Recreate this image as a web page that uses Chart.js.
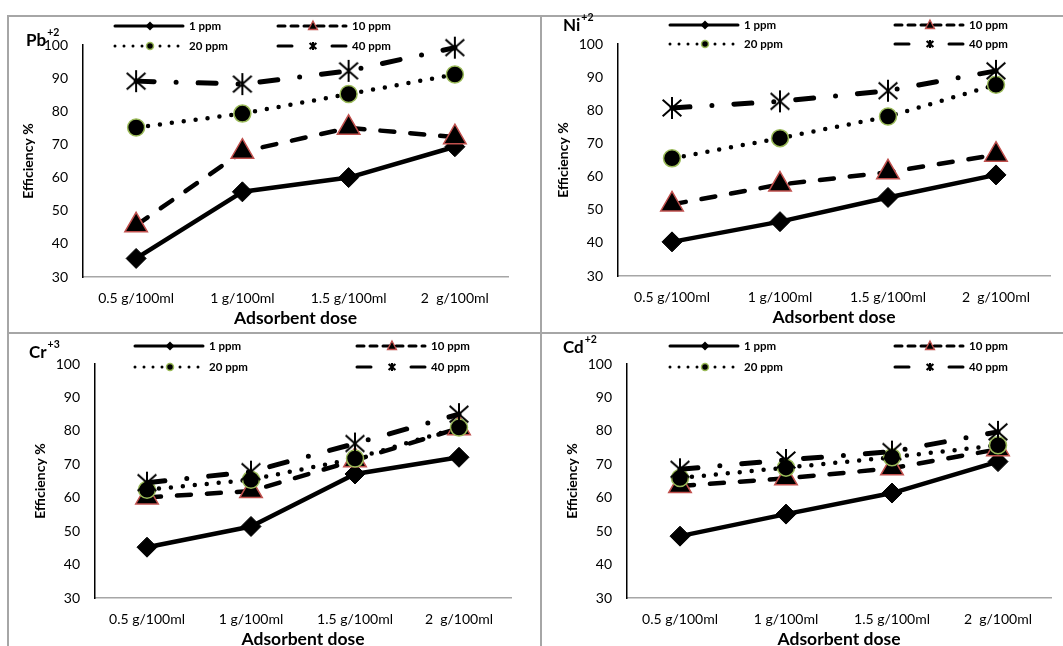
<!DOCTYPE html>
<html>
<head>
<meta charset="utf-8">
<script src="https://cdn.jsdelivr.net/npm/chart.js@4.4.0/dist/chart.umd.min.js"></script>
<style>
  body { margin: 0; background: #fff; width: 1063px; height: 646px; overflow: hidden; position: relative; }
  .box { position: absolute; border: 2px solid #a6a6a6; box-sizing: border-box; }
  canvas { position: absolute; }
</style>
</head>
<body>
<div class="box" style="left:7px;top:15px;width:535px;height:319px"></div>
<div class="box" style="left:540px;top:15px;width:540px;height:319px"></div>
<div class="box" style="left:7px;top:332px;width:535px;height:330px"></div>
<div class="box" style="left:540px;top:332px;width:540px;height:330px"></div>
<canvas id="pb"></canvas>
<canvas id="ni"></canvas>
<canvas id="cr"></canvas>
<canvas id="cd"></canvas>
<script>
'use strict';

const doses = ['0.5 g/100ml', '1 g/100ml', '1.5 g/100ml', '2  g/100ml'];
const seriesNames = ['1 ppm', '10 ppm', '20 ppm', '40 ppm'];
const yMin = 30, yMax = 100, yStep = 10;

// Pb+2
const pb1 = [35.6, 55.7, 60.0, 69.3];
const pb10 = [45.6, 67.8, 75.0, 72.2];
const pb20 = [75.1, 79.3, 85.2, 91.1];
const pb40 = [89.1, 88.2, 92.2, 99.2];

// Ni+2
const ni1 = [40.3, 46.4, 53.7, 60.5];
const ni10 = [51.6, 57.6, 61.3, 66.6];
const ni20 = [65.5, 71.6, 78.1, 87.7];
const ni40 = [80.7, 82.7, 85.9, 91.9];

// Cr+3
const cr1 = [45.2, 51.4, 67.1, 72.1];
const cr10 = [60.1, 62.0, 71.2, 80.8];
const cr20 = [62.4, 65.4, 71.7, 81.0];
const cr40 = [64.5, 67.8, 76.2, 85.0];

// Cd+2
const cd1 = [48.5, 55.1, 61.4, 70.8];
const cd10 = [63.5, 65.8, 68.8, 74.5];
const cd20 = [65.9, 69.0, 72.1, 75.7];
const cd40 = [68.5, 71.3, 73.8, 79.7];

const TOP = 40; // room above the plot for legend and ion label

function asterisk(size, lw) {
    const c = document.createElement('canvas');
    c.width = c.height = size;
    const g = c.getContext('2d');
    const m = size / 2, r = size / 2 - 1;
    g.strokeStyle = '#000';
    g.lineWidth = lw;
    g.beginPath();
    g.moveTo(m, m - r); g.lineTo(m, m + r);
    g.moveTo(m - r * 0.85, m - r * 0.75); g.lineTo(m + r * 0.85, m + r * 0.75);
    g.moveTo(m + r * 0.85, m - r * 0.75); g.lineTo(m - r * 0.85, m + r * 0.75);
    g.stroke();
    return c;
}

const starBig = asterisk(24, 2);
const starSmall = asterisk(10, 2.2);

const styles = [
    { width: 4.5, dash: [], legendDash: [], point: 'rectRot', radius: 10, fill: '#000', edge: '#000', edgeW: 1 },
    { width: 4.5, dash: [14, 16], legendDash: [7, 6], point: 'triangle', radius: 13, fill: '#000', edge: '#c0504d', edgeW: 1.5 },
    { width: 4.5, dash: [0, 12], legendDash: [0, 9], point: 'circle', radius: 8.5, fill: '#000', edge: '#9bbb59', edgeW: 1.5 },
    { width: 5, dash: [18, 22, 0, 22], legendDash: [14, 40], point: starBig, radius: 11, fill: '#000', edge: '#000', edgeW: 1 }
];

function legendMarker(ctx, i, x, y) {
    ctx.save();
    ctx.fillStyle = '#000';
    ctx.beginPath();
    if (i === 0) {
        ctx.moveTo(x, y - 4.5); ctx.lineTo(x + 4.5, y); ctx.lineTo(x, y + 4.5); ctx.lineTo(x - 4.5, y);
        ctx.closePath(); ctx.fill();
    } else if (i === 1) {
        ctx.moveTo(x, y - 5); ctx.lineTo(x + 4.5, y + 3.5); ctx.lineTo(x - 4.5, y + 3.5);
        ctx.closePath(); ctx.fill();
        ctx.strokeStyle = '#c0504d'; ctx.lineWidth = 1.3; ctx.stroke();
    } else if (i === 2) {
        ctx.arc(x, y, 3.5, 0, Math.PI * 2);
        ctx.fill();
        ctx.strokeStyle = '#9bbb59'; ctx.lineWidth = 1.5; ctx.stroke();
    } else {
        ctx.drawImage(starSmall, x - 5, y - 5);
    }
    ctx.restore();
}

const panelDecor = {
    id: 'panelDecor',
    afterDraw(chart, args, opts) {
        const ctx = chart.ctx, a = chart.chartArea;
        ctx.save();
        ctx.fillStyle = '#000';
        ctx.textBaseline = 'middle';
        ctx.font = 'bold 17px Lato';
        const lx = a.left + opts.labelX, ly = a.top + opts.labelY;
        ctx.fillText(opts.metal, lx, ly);
        const w = ctx.measureText(opts.metal).width;
        ctx.font = 'bold 10.5px Lato';
        ctx.fillText(opts.charge, lx + w + 1, ly - 8);

        ctx.font = 'bold 11.5px Lato';
        chart.data.datasets.forEach((ds, i) => {
            const s = styles[i];
            const x0 = a.left + opts.legendX[i % 2];
            const y = a.top + opts.legendY[Math.floor(i / 2)];
            ctx.save();
            ctx.strokeStyle = '#000';
            ctx.lineWidth = 3;
            ctx.lineCap = 'round';
            ctx.setLineDash(s.legendDash);
            ctx.beginPath();
            ctx.moveTo(x0, y);
            ctx.lineTo(x0 + 68, y);
            ctx.stroke();
            ctx.restore();
            legendMarker(ctx, i, x0 + 35, y);
            ctx.fillText(ds.label, x0 + 74, y);
        });
        ctx.restore();
    }
};

function makeChart(id, series, o) {
    const canvas = document.getElementById(id);
    canvas.width = 74 + o.w + 20;
    canvas.height = TOP + o.h + 54;
    canvas.style.left = (o.x - 74) + 'px';
    canvas.style.top = (o.y - TOP) + 'px';

    return new Chart(canvas, {
        type: 'line',
        data: {
            labels: doses,
            datasets: series.map((vals, i) => ({
                label: seriesNames[i],
                data: vals,
                borderColor: '#000',
                borderWidth: styles[i].width,
                borderDash: styles[i].dash,
                borderCapStyle: 'round',
                borderJoinStyle: 'round',
                pointStyle: styles[i].point,
                pointRadius: styles[i].radius,
                pointHoverRadius: styles[i].radius,
                pointBackgroundColor: styles[i].fill,
                pointBorderColor: styles[i].edge,
                pointBorderWidth: styles[i].edgeW,
                tension: 0,
                fill: false,
                clip: false,
                order: 4 - i
            }))
        },
        options: {
            responsive: false,
            animation: false,
            devicePixelRatio: 1,
            layout: { padding: { top: TOP, right: 20, left: 0, bottom: 0 } },
            plugins: {
                legend: { display: false },
                tooltip: { enabled: false },
                panelDecor: o.decor
            },
            scales: {
                x: {
                    offset: true,
                    grid: { display: false, drawTicks: false },
                    border: { color: '#a6a6a6', width: 1.5 },
                    ticks: { color: '#000', font: { family: 'Lato', size: 14 }, padding: 13, maxRotation: 0, autoSkip: false },
                    title: { display: true, text: 'Adsorbent dose', color: '#000', font: { family: 'Lato', size: 17.5, weight: 'bold' }, padding: { top: 0, bottom: 2 } },
                    afterFit: s => { s.height = 54; }
                },
                y: {
                    min: yMin,
                    max: yMax,
                    grid: { display: false, drawTicks: false },
                    border: { color: '#000', width: 1.5 },
                    ticks: { stepSize: yStep, color: '#000', font: { family: 'Lato', size: 14 }, padding: 15 },
                    title: { display: true, text: 'Efficiency %', color: '#000', font: { family: 'Lato', size: 14, weight: 'bold' }, padding: { top: 11.5, bottom: 0 } },
                    afterFit: s => { s.width = 74; }
                }
            }
        },
        plugins: [panelDecor]
    });
}

makeChart('pb', [pb1, pb10, pb20, pb40], {
    x: 83, y: 45, w: 425, h: 232,
    decor: { metal: 'Pb', charge: '+2', labelX: -57, labelY: -4, legendX: [32, 195], legendY: [-19, 1] }
});
makeChart('ni', [ni1, ni10, ni20, ni40], {
    x: 618, y: 44, w: 432, h: 232,
    decor: { metal: 'Ni', charge: '+2', labelX: -55, labelY: -18, legendX: [52, 277], legendY: [-19, 0] }
});
makeChart('cr', [cr1, cr10, cr20, cr40], {
    x: 95, y: 364, w: 416, h: 234,
    decor: { metal: 'Cr', charge: '+3', labelX: -66, labelY: -11, legendX: [40, 262], legendY: [-18, 3] }
});
makeChart('cd', [cd1, cd10, cd20, cd40], {
    x: 627, y: 364, w: 424, h: 234,
    decor: { metal: 'Cd', charge: '+2', labelX: -64, labelY: -16, legendX: [43, 268], legendY: [-18, 3] }
});
</script>
</body>
</html>
